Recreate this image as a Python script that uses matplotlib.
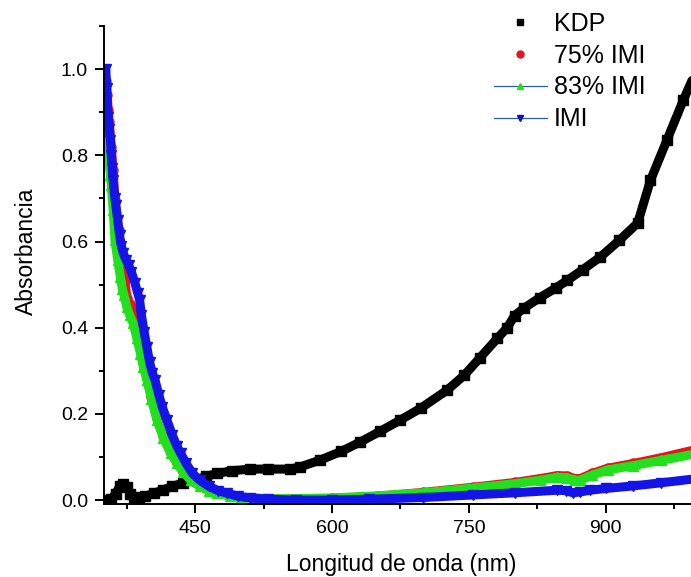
import matplotlib
matplotlib.use("Agg")
import matplotlib.pyplot as plt
from matplotlib.lines import Line2D
from matplotlib.ticker import MultipleLocator, FormatStrFormatter

plt.rcParams['font.family'] = ['Liberation Sans', 'DejaVu Sans']

# KDP absorbance spectrum
kdp_x = [352, 358, 363, 367, 371, 375, 379, 383, 388, 395, 405, 415, 425, 437,
         450, 462, 474, 490, 510, 530, 554, 565, 587, 610, 631, 653, 675, 697,
         726, 745, 762, 781, 792, 800, 810, 828, 845, 858, 875, 894, 915, 935,
         949, 967, 985, 1000]
kdp_y = [0.000, 0.003, 0.015, 0.032, 0.038, 0.030, 0.015, 0.007, 0.005, 0.009,
         0.016, 0.024, 0.032, 0.040, 0.047, 0.055, 0.062, 0.068, 0.072, 0.072,
         0.072, 0.077, 0.093, 0.113, 0.135, 0.160, 0.186, 0.213, 0.255, 0.290,
         0.330, 0.375, 0.400, 0.428, 0.445, 0.470, 0.492, 0.510, 0.535, 0.564,
         0.603, 0.643, 0.742, 0.835, 0.928, 1.000]

# 75% IMI
imi75_x = [352.5, 353.5, 354.6, 355.7, 358, 360, 362, 366, 370, 373, 375, 378,
           381, 384, 387, 390, 393, 397, 402, 408, 415, 423, 430, 437, 445, 455,
           465, 474, 488, 500, 540, 600, 650, 700, 755, 800, 828, 847, 858, 866,
           872, 885, 902, 930, 960, 1000]
imi75_y = [0.972, 0.940, 0.905, 0.877, 0.820, 0.766, 0.696, 0.626, 0.557, 0.510,
           0.470, 0.455, 0.445, 0.434, 0.400, 0.360, 0.320, 0.285, 0.240, 0.190,
           0.148, 0.110, 0.087, 0.066, 0.047, 0.033, 0.023, 0.016, 0.010, 0.006,
           0.002, 0.004, 0.009, 0.018, 0.030, 0.041, 0.050, 0.057, 0.056, 0.050,
           0.050, 0.062, 0.074, 0.085, 0.098, 0.118]

# 83% IMI
imi83_x = [352.5, 353, 355, 357, 358, 360, 362, 365, 368, 370, 372, 375, 378,
           382, 386, 390, 393, 397, 402, 408, 415, 423, 430, 437, 445, 455, 465,
           474, 488, 500, 540, 600, 650, 700, 755, 800, 828, 847, 858, 866, 872,
           885, 902, 930, 960, 1000]
imi83_y = [0.930, 0.875, 0.796, 0.755, 0.730, 0.673, 0.603, 0.557, 0.517, 0.490,
           0.475, 0.448, 0.430, 0.410, 0.375, 0.340, 0.310, 0.278, 0.235, 0.186,
           0.145, 0.109, 0.085, 0.065, 0.046, 0.032, 0.022, 0.016, 0.010, 0.006,
           0.003, 0.005, 0.010, 0.017, 0.028, 0.038, 0.046, 0.053, 0.052, 0.046,
           0.046, 0.058, 0.070, 0.080, 0.092, 0.108]

# Pure IMI
imi_x = [352, 353, 354.5, 356, 357, 358, 359, 360, 362, 363, 365, 367, 369, 371,
         374, 377, 380, 384, 387, 389, 391, 394, 397, 400, 403, 406, 410, 414,
         419, 425, 430, 434, 440, 447, 455, 465, 475, 485, 497, 510, 530, 560,
         600, 640, 700, 755, 800, 847, 856, 864, 872, 883, 900, 930, 960, 1000]
imi_y = [1.000, 0.955, 0.890, 0.860, 0.835, 0.800, 0.770, 0.742, 0.700, 0.684,
         0.650, 0.615, 0.590, 0.573, 0.558, 0.545, 0.530, 0.503, 0.480, 0.465,
         0.430, 0.390, 0.355, 0.320, 0.295, 0.278, 0.245, 0.215, 0.186, 0.150,
         0.125, 0.109, 0.085, 0.062, 0.046, 0.032, 0.022, 0.016, 0.009, 0.005,
         0.002, 0.000, 0.000, 0.002, 0.006, 0.012, 0.017, 0.023, 0.022, 0.017,
         0.019, 0.023, 0.027, 0.033, 0.040, 0.050]

labels = ["KDP", "75% IMI", "83% IMI", "IMI"]
colors = ["#000000", "#e8141a", "#22e01e", "#1414e6"]
markers = ["s", "o", "^", "v"]
legend_line_color = "#2a5fa0"

fig = plt.figure(figsize=(6.91, 5.77), dpi=100)
ax = fig.add_axes([104 / 691, 73 / 577, 593 / 691, 478 / 577])

series = [(kdp_x, kdp_y), (imi75_x, imi75_y), (imi83_x, imi83_y), (imi_x, imi_y)]
for (xs, ys), c, m in zip(series, colors, markers):
    ax.plot(xs, ys, color=c, lw=6.5, marker=m, ms=6.5, mec=c, mfc=c,
            solid_joinstyle='round', solid_capstyle='round')

ax.set_xlim(350, 1000)
ax.set_ylim(-0.009, 1.1)
ax.set_xticks([450, 600, 750, 900])
ax.xaxis.set_minor_locator(MultipleLocator(75))
ax.yaxis.set_major_locator(MultipleLocator(0.2))
ax.yaxis.set_minor_locator(MultipleLocator(0.1))
ax.yaxis.set_major_formatter(FormatStrFormatter('%.1f'))

for s in ['top', 'right']:
    ax.spines[s].set_visible(False)
for s in ['left', 'bottom']:
    ax.spines[s].set_linewidth(1.4)

ax.tick_params(which='major', direction='out', length=6.5, width=1.4,
               labelsize=14, pad=5, colors='black')
ax.tick_params(which='minor', direction='out', length=3.5, width=1.4)

ax.set_xlabel("Longitud de onda (nm)", fontsize=16.5)
ax.set_ylabel("Absorbancia", fontsize=16.5)
ax.xaxis.set_label_coords((401 - 104) / 593, -(553 - 504) / 478)
ax.yaxis.set_label_coords(-(104 - 38) / 593, (504 - 251) / 478)

handles = [
    Line2D([], [], ls='none', marker='s', color='black', ms=5),
    Line2D([], [], ls='none', marker='o', color=colors[1], ms=5),
    Line2D([], [], ls='-', lw=0.9, color=legend_line_color, marker='^',
           mfc=colors[2], mec=colors[2], ms=5),
    Line2D([], [], ls='-', lw=0.9, color=legend_line_color, marker='v',
           mfc='#1010b0', mec='#1010b0', ms=5),
]
fig.legend(handles, labels, loc='upper left', bbox_to_anchor=(494 / 691, 1 - 12 / 577),
           frameon=False, fontsize=18, handlelength=2.1, handletextpad=0.3,
           labelspacing=0.31, borderpad=0, borderaxespad=0)

fig.savefig("out.png", dpi=100)
